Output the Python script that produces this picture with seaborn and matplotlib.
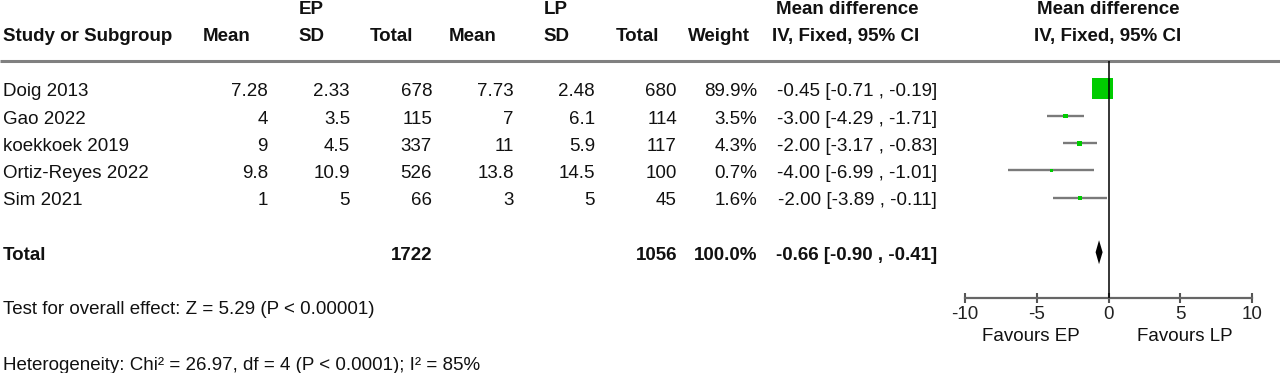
import matplotlib
matplotlib.use("Agg")
import matplotlib.pyplot as plt
import seaborn as sns
import numpy as np
import pandas as pd

# ---------------- data ----------------
studies = ["Doig 2013", "Gao 2022", "koekkoek 2019", "Ortiz-Reyes 2022", "Sim 2021"]
ep_mean = [7.28, 4, 9, 9.8, 1]
ep_sd = [2.33, 3.5, 4.5, 10.9, 5]
ep_total = [678, 115, 337, 526, 66]
lp_mean = [7.73, 7, 11, 13.8, 3]
lp_sd = [2.48, 6.1, 5.9, 14.5, 5]
lp_total = [680, 114, 117, 100, 45]
weight = [89.9, 3.5, 4.3, 0.7, 1.6]
md = [-0.45, -3.00, -2.00, -4.00, -2.00]
ci_lo = [-0.71, -4.29, -3.17, -6.99, -3.89]
ci_hi = [-0.19, -1.71, -0.83, -1.01, -0.11]
total_ep = 1722
total_lp = 1056
total_weight = 100.0
pooled = [-0.66, -0.90, -0.41]  # estimate, lower, upper
xticks = [-10, -5, 0, 5, 10]
test_text = "Test for overall effect: Z = 5.29 (P < 0.00001)"
het_text = "Heterogeneity: Chi² = 26.97, df = 4 (P < 0.0001); I² = 85%"

# ---------------- style ----------------
sns.set_style("white")
plt.rcParams["font.family"] = ["Liberation Sans", "DejaVu Sans"]
FS = 13.5
TXT = "#111111"
GREEN = "#00cc00"
GRAY = "#7a7a7a"

W, H = 1280, 373
fig = plt.figure(figsize=(W / 100, H / 100), dpi=100)

# table axes in pixel coordinates
ax_t = fig.add_axes([0, 0, 1, 1])
ax_t.set_xlim(0, W)
ax_t.set_ylim(H, 0)
ax_t.axis("off")


def base(row):
    return 96.3 + 27.2 * row


def t(x, y, s, ha="left", bold=False, size=FS):
    ax_t.text(x, y, s, ha=ha, va="baseline", fontsize=size,
              fontweight="bold" if bold else "normal", color=TXT)


# headers
t(3, 41, "Study or Subgroup", bold=True)
t(227, 41, "Mean", ha="center", bold=True)
t(311, 41, "SD", ha="center", bold=True)
t(311, 14, "EP", ha="center", bold=True)
t(392, 41, "Total", ha="center", bold=True)
t(473, 41, "Mean", ha="center", bold=True)
t(556, 41, "SD", ha="center", bold=True)
t(556, 14, "LP", ha="center", bold=True)
t(637, 41, "Total", ha="center", bold=True)
t(719, 41, "Weight", ha="center", bold=True)
t(847, 14, "Mean difference", ha="center", bold=True)
t(846, 41, "IV, Fixed, 95% CI", ha="center", bold=True)
t(1108, 14, "Mean difference", ha="center", bold=True)
t(1108, 41, "IV, Fixed, 95% CI", ha="center", bold=True)
ax_t.plot([0, W], [61, 61], color="#808080", lw=2.2, solid_capstyle="butt")

# study rows
for i, name in enumerate(studies):
    y = base(i)
    t(3, y, name)
    t(268, y, f"{ep_mean[i]:g}", ha="right")
    t(350, y, f"{ep_sd[i]:g}", ha="right")
    t(432, y, f"{ep_total[i]}", ha="right")
    t(514, y, f"{lp_mean[i]:g}", ha="right")
    t(595, y, f"{lp_sd[i]:g}", ha="right")
    t(677, y, f"{lp_total[i]}", ha="right")
    t(757, y, f"{weight[i]:.1f}%", ha="right")
    t(937, y, f"{md[i]:.2f} [{ci_lo[i]:.2f} , {ci_hi[i]:.2f}]", ha="right")

TOTAL_ROW = 6
y = base(TOTAL_ROW)
t(3, y, "Total", bold=True)
t(432, y, f"{total_ep}", ha="right", bold=True)
t(677, y, f"{total_lp}", ha="right", bold=True)
t(757, y, f"{total_weight:.1f}%", ha="right", bold=True)
t(937, y, f"{pooled[0]:.2f} [{pooled[1]:.2f} , {pooled[2]:.2f}]", ha="right", bold=True)

t(3, 314, test_text)
t(3, 370, het_text)
t(1031, 341, "Favours EP", ha="center")
t(1185, 341, "Favours LP", ha="center")

# ---------------- forest axes ----------------
left_px, right_px, top_px, bot_px = 965, 1252, 61, 298
ax_f = fig.add_axes([left_px / W, 1 - bot_px / H, (right_px - left_px) / W, (bot_px - top_px) / H])
ax_f.patch.set_alpha(0)
row0, step = 88.7, 27.25
ax_f.set_ylim((bot_px - row0) / step, (top_px - row0) / step)
ax_f.set_xlim(-10, 10)

rows = np.arange(len(studies))
df = pd.DataFrame({"md": md, "row": rows, "weight": weight})
ax_f.hlines(rows, ci_lo, ci_hi, color=GRAY, lw=1.7, zorder=2)
sns.scatterplot(data=df, x="md", y="row", size="weight", sizes=(5, 230),
                marker="s", color=GREEN, linewidth=0, legend=False, ax=ax_f, zorder=3)

dh = 0.44
ax_f.fill([pooled[1], pooled[0], pooled[2], pooled[0]],
          [TOTAL_ROW, TOTAL_ROW - dh, TOTAL_ROW, TOTAL_ROW + dh],
          color="black", lw=0, zorder=3)
ax_f.axvline(0, color="black", lw=1.1, zorder=4)

for s in ["left", "right", "top"]:
    ax_f.spines[s].set_visible(False)
ax_f.spines["bottom"].set_color("#666666")
ax_f.spines["bottom"].set_linewidth(1.6)
ax_f.spines["bottom"].set_zorder(1)
ax_f.set_xticks(xticks)
ax_f.set_xticklabels([f"{v:g}" for v in xticks])
ax_f.set_yticks([])
ax_f.xaxis.set_ticks_position("bottom")
ax_f.tick_params(axis="x", which="major", bottom=True, direction="inout", length=7,
                 width=1.5, color="#555555", labelsize=FS, labelcolor="#222222", pad=2.5)
ax_f.set_xlabel("")
ax_f.set_ylabel("")

fig.savefig("out.png", dpi=100)
